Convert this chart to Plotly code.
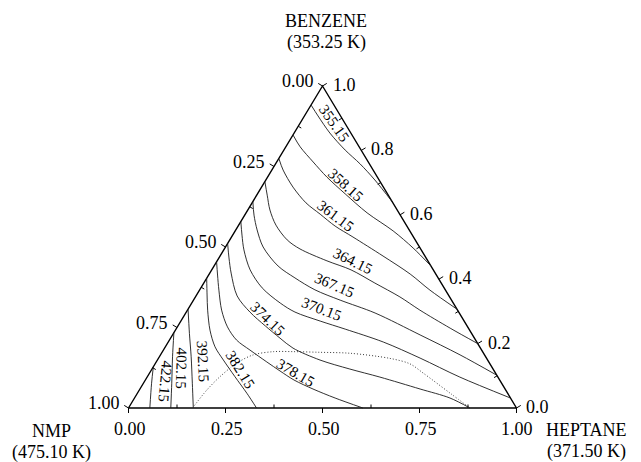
import math
import plotly.graph_objects as go

# ---------------- data: compositions ----------------
# mole fraction of heptane (h) and benzene (b); NMP = 1 - h - b
isotherm_names = ["355.15", "358.15", "361.15", "364.15", "367.15", "370.15",
                  "374.15", "378.15", "382.15", "392.15", "402.15", "422.15"]

heptane_355 = [0.000, 0.035, 0.092, 0.158, 0.218, 0.281, 0.360]
benzene_355 = [0.941, 0.907, 0.854, 0.801, 0.758, 0.708, 0.640]

heptane_358 = [0.000, 0.037, 0.094, 0.153, 0.226, 0.312, 0.407, 0.485, 0.559]
benzene_358 = [0.848, 0.811, 0.764, 0.717, 0.665, 0.606, 0.550, 0.497, 0.441]

heptane_361 = [0.000, 0.029, 0.081, 0.139, 0.193, 0.250, 0.313, 0.420, 0.518, 0.594, 0.693]
benzene_361 = [0.775, 0.739, 0.686, 0.637, 0.602, 0.565, 0.531, 0.472, 0.416, 0.366, 0.307]

heptane_364 = [0.000, 0.027, 0.057, 0.096, 0.148, 0.195, 0.283, 0.359, 0.441, 0.527, 0.599, 0.705, 0.800]
benzene_364 = [0.703, 0.661, 0.615, 0.568, 0.522, 0.494, 0.457, 0.429, 0.388, 0.345, 0.304, 0.248, 0.200]

heptane_367 = [0.000, 0.024, 0.055, 0.097, 0.165, 0.227, 0.297, 0.378, 0.488, 0.638, 0.772, 0.898]
benzene_367 = [0.641, 0.599, 0.553, 0.500, 0.441, 0.404, 0.367, 0.335, 0.295, 0.227, 0.165, 0.102]

heptane_370 = [0.000, 0.024, 0.052, 0.099, 0.158, 0.228, 0.280, 0.359, 0.436, 0.554, 0.674, 0.806, 0.969]
benzene_370 = [0.579, 0.537, 0.491, 0.429, 0.373, 0.326, 0.298, 0.270, 0.245, 0.205, 0.155, 0.096, 0.031]

heptane_374 = [0.000, 0.026, 0.055, 0.106, 0.164, 0.225, 0.282, 0.331, 0.419, 0.510, 0.600, 0.722, 0.813, 0.880]
benzene_374 = [0.511, 0.466, 0.419, 0.348, 0.298, 0.255, 0.217, 0.186, 0.149, 0.121, 0.096, 0.059, 0.031, 0.000]

heptane_378 = [0.000, 0.023, 0.050, 0.088, 0.129, 0.173, 0.223, 0.285, 0.333, 0.383, 0.446, 0.517, 0.604]
benzene_378 = [0.454, 0.413, 0.366, 0.304, 0.252, 0.211, 0.180, 0.143, 0.115, 0.087, 0.059, 0.031, 0.000]

heptane_382 = [0.000, 0.027, 0.052, 0.089, 0.128, 0.170, 0.226, 0.282, 0.330]
benzene_382 = [0.403, 0.351, 0.304, 0.242, 0.190, 0.149, 0.097, 0.046, 0.000]

heptane_392 = [0.000, 0.041, 0.082, 0.126, 0.167]
benzene_392 = [0.307, 0.232, 0.159, 0.077, 0.000]

heptane_402 = [0.000, 0.034, 0.073, 0.109]
benzene_402 = [0.234, 0.159, 0.077, 0.000]

heptane_422 = [0.000, 0.021, 0.055]
benzene_422 = [0.128, 0.077, 0.000]

# dotted boundary
heptane_dotted = [0.165, 0.174, 0.187, 0.209, 0.239, 0.286, 0.337, 0.407, 0.486,
                  0.597, 0.657, 0.706, 0.806, 0.880]
benzene_dotted = [0.000, 0.056, 0.097, 0.139, 0.165, 0.175, 0.175, 0.173, 0.170,
                  0.154, 0.137, 0.108, 0.046, 0.000]

# axis ticks (fractions)
nmp_major = [0.00, 0.25, 0.50, 0.75, 1.00]
nmp_minor = [0.125, 0.375, 0.625, 0.875]
heptane_major = [0.00, 0.25, 0.50, 0.75, 1.00]
heptane_minor = [0.125, 0.375, 0.625, 0.875]
benzene_major = [0.0, 0.2, 0.4, 0.6, 0.8, 1.0]
benzene_minor = [0.1, 0.3, 0.5, 0.7, 0.9]

top_title = ["BENZENE", "(353.25 K)"]
left_title = ["NMP", "(475.10 K)"]
right_title = ["HEPTANE", "(371.50 K)"]

curves = [
    (heptane_355, benzene_355), (heptane_358, benzene_358), (heptane_361, benzene_361),
    (heptane_364, benzene_364), (heptane_367, benzene_367), (heptane_370, benzene_370),
    (heptane_374, benzene_374), (heptane_378, benzene_378), (heptane_382, benzene_382),
    (heptane_392, benzene_392), (heptane_402, benzene_402), (heptane_422, benzene_422),
]

# ---------------- layout / geometry ----------------
W, HGT = 641, 462
X0, X1 = -0.3312, 1.3209
Y0, Y1 = -0.1677, 1.2671
SX = W / (X1 - X0)      # px per x unit
SY = HGT / (Y1 - Y0)    # px per y unit
FONT = "Liberation Serif"
LABEL_OFFSET = 4        # px, labels sit just above their isotherm

# label placement (heptane, benzene, angle) for each isotherm label
label_place = [
    (0.082, 0.879, 55), (0.211, 0.683, 42), (0.234, 0.587, 37), (0.351, 0.444, 26),
    (0.340, 0.372, 23), (0.345, 0.297, 21), (0.218, 0.268, 44), (0.377, 0.099, 30),
    (0.224, 0.113, 58), (0.109, 0.146, 87), (0.063, 0.123, 91), (0.042, 0.085, 95),
]


def to_xy(h, b):
    return [hh + bb / 2.0 for hh, bb in zip(h, b)], list(b)


def pt(h, b):
    return h + b / 2.0, b


def outward_normal(a, bpt, centroid):
    dx = (bpt[0] - a[0]) * SX
    dy = (bpt[1] - a[1]) * SY
    ln = math.hypot(dx, dy)
    nx, ny = -dy / ln, dx / ln
    mx, my = (a[0] + bpt[0]) / 2, (a[1] + bpt[1]) / 2
    if (nx * (mx - centroid[0]) * SX + ny * (my - centroid[1]) * SY) < 0:
        nx, ny = -nx, -ny
    return nx, ny


V_BL = pt(0, 0)   # NMP vertex
V_BR = pt(1, 0)   # heptane vertex
V_T = pt(0, 1)    # benzene vertex
CEN = ((V_BL[0] + V_BR[0] + V_T[0]) / 3, (V_BL[1] + V_BR[1] + V_T[1]) / 3)

n_left = outward_normal(V_BL, V_T, CEN)
n_bottom = outward_normal(V_BL, V_BR, CEN)
n_right = outward_normal(V_BR, V_T, CEN)

fig = go.Figure()

# triangle frame
fx, fy = zip(V_BL, V_BR, V_T, V_BL)
fig.add_trace(go.Scatter(x=list(fx), y=list(fy), mode="lines",
                         line=dict(color="black", width=1.4), hoverinfo="skip"))

# ticks
tx, ty = [], []


def add_ticks(points, normal, length):
    for (x, y) in points:
        tx.extend([x, x + normal[0] * length / SX, None])
        ty.extend([y, y + normal[1] * length / SY, None])


left_major_pts = [pt(0, 1 - t) for t in nmp_major]
left_minor_pts = [pt(0, 1 - t) for t in nmp_minor]
bottom_major_pts = [pt(t, 0) for t in heptane_major]
bottom_minor_pts = [pt(t, 0) for t in heptane_minor]
right_major_pts = [pt(1 - t, t) for t in benzene_major]
right_minor_pts = [pt(1 - t, t) for t in benzene_minor]

add_ticks(left_major_pts, n_left, 5)
add_ticks(bottom_major_pts, n_bottom, 5)
add_ticks(right_major_pts, n_right, 5)
add_ticks(left_minor_pts, n_left, -3.5)
add_ticks(bottom_minor_pts, n_bottom, -3.5)
add_ticks(right_minor_pts, n_right, -3.5)

fig.add_trace(go.Scatter(x=tx, y=ty, mode="lines",
                         line=dict(color="black", width=1.0), hoverinfo="skip"))

# isotherms
for hvals, bvals in curves:
    x, y = to_xy(hvals, bvals)
    fig.add_trace(go.Scatter(x=x, y=y, mode="lines",
                             line=dict(color="#1a1a1a", width=0.9, shape="spline", smoothing=0.9),
                             hoverinfo="skip"))

# dotted boundary
dx_, dy_ = to_xy(heptane_dotted, benzene_dotted)
fig.add_trace(go.Scatter(x=dx_, y=dy_, mode="lines",
                         line=dict(color="#3a3a3a", width=1.0, dash="1px,2px",
                                   shape="spline", smoothing=0.9),
                         hoverinfo="skip"))

annotations = []
tick_font = dict(family=FONT, size=18, color="black")

for t, (x, y) in zip(nmp_major, left_major_pts):
    annotations.append(dict(x=x, y=y, text=f"{t:.2f}", showarrow=False, xanchor="right",
                            yanchor="middle", xshift=-7, yshift=5, font=tick_font))
for t, (x, y) in zip(heptane_major, bottom_major_pts):
    annotations.append(dict(x=x, y=y, text=f"{t:.2f}", showarrow=False, xanchor="center",
                            yanchor="middle", xshift=1, yshift=-21, font=tick_font))
for t, (x, y) in zip(benzene_major, right_major_pts):
    annotations.append(dict(x=x, y=y, text=f"{t:.1f}", showarrow=False, xanchor="left",
                            yanchor="middle", xshift=8, yshift=1, font=tick_font))

lab_font = dict(family=FONT, size=15, color="black")
for name, (lh, lb, ang) in zip(isotherm_names, label_place):
    x, y = pt(lh, lb)
    rad = math.radians(ang)
    annotations.append(dict(x=x, y=y, text=name, showarrow=False, textangle=ang,
                            xanchor="center", yanchor="middle",
                            xshift=LABEL_OFFSET * math.sin(rad),
                            yshift=LABEL_OFFSET * math.cos(rad),
                            font=lab_font))

title_font = dict(family=FONT, size=18, color="black")
for lines, px, pys in [(top_title, 326, (21, 42.5)),
                       (left_title, 51.7, (431, 452)),
                       (right_title, 586.7, (430, 451))]:
    for txt, py in zip(lines, pys):
        annotations.append(dict(xref="paper", yref="paper", x=px / W, y=1 - py / HGT,
                                text=txt, showarrow=False, xanchor="center",
                                yanchor="middle", font=title_font))

fig.update_layout(
    width=W, height=HGT,
    margin=dict(l=0, r=0, t=0, b=0),
    paper_bgcolor="white", plot_bgcolor="white",
    showlegend=False,
    xaxis=dict(range=[X0, X1], visible=False, fixedrange=True),
    yaxis=dict(range=[Y0, Y1], visible=False, fixedrange=True),
    annotations=annotations,
)

fig.write_html("out.html")
